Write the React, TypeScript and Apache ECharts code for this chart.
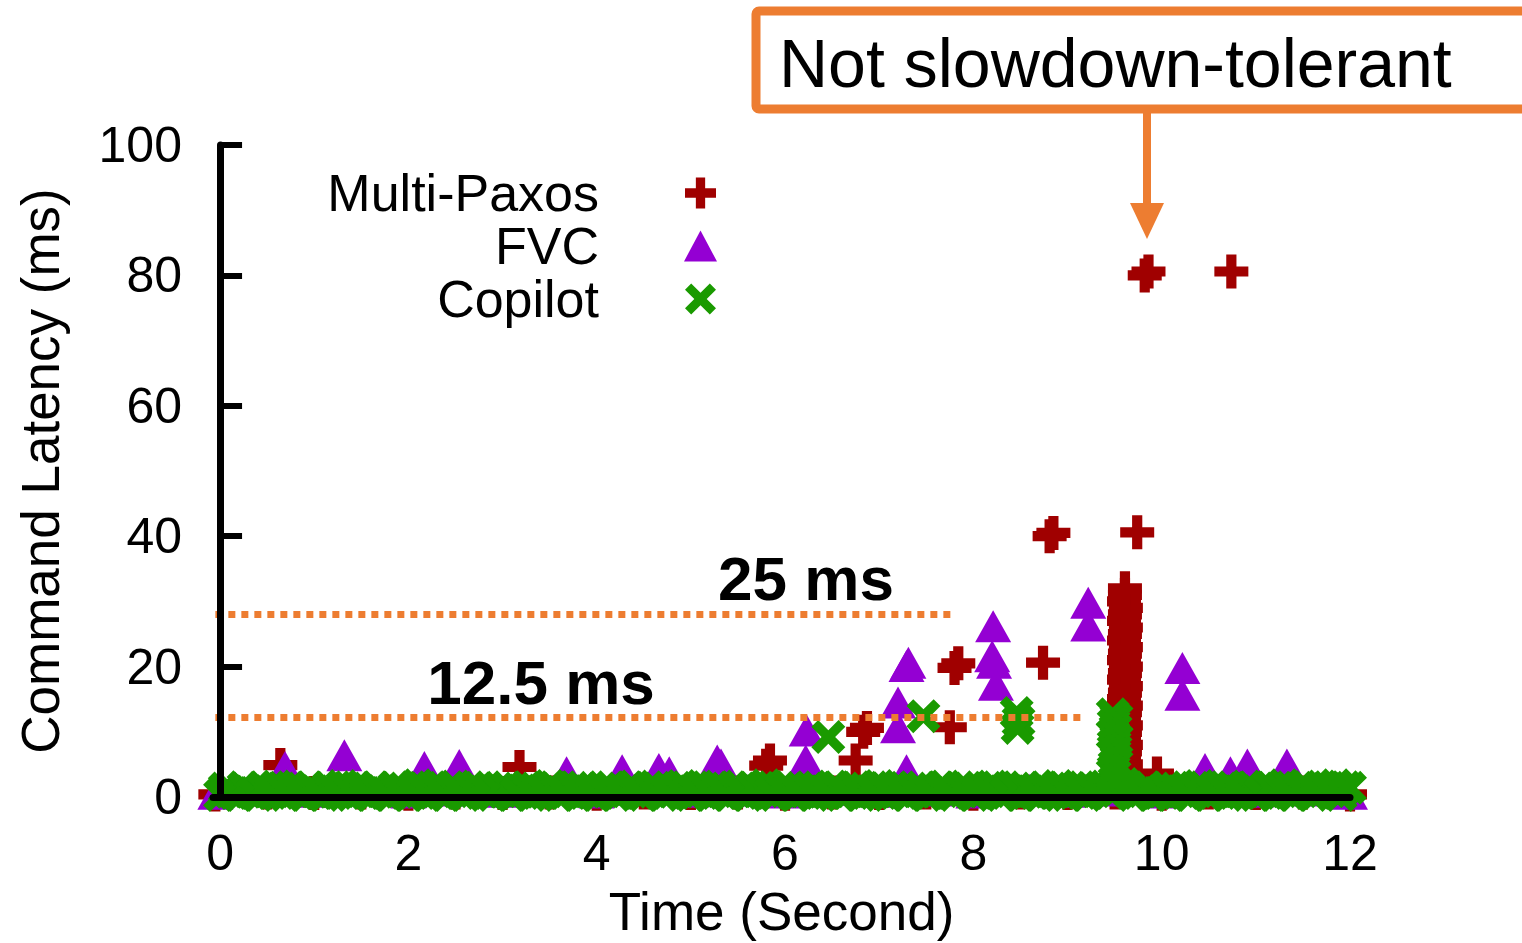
import React, { useEffect, useRef } from "react";
import * as echarts from "echarts";

const FONT = "'Liberation Sans', Arial, Helvetica, sans-serif";
const RED = "#A00000";
const PURPLE = "#9400D3";
const GREEN = "#1A9A00";
const ORANGE = "#ED7D31";

const PLUS = "path://M7,0H13V7H20V13H13V20H7V13H0V7H7Z";
const CROSS =
  "path://M0,4L4,0L10,6L16,0L20,4L14,10L20,16L16,20L10,14L4,20L0,16L6,10Z";

const seriesNames = ["Multi-Paxos", "FVC", "Copilot"];
const xTickValues = [0, 2, 4, 6, 8, 10, 12];

// Time (s), latency (ms)
const multiPaxosOutliers: [number, number][] = [
  [0.64, 4.9], [3.18, 4.6], [5.8, 4.8], [5.84, 5.6], [6.75, 5.6], [6.83, 10.0],
  [6.87, 10.6], [7.75, 10.7], [7.8, 19.8], [7.84, 20.5], [8.74, 20.6], [8.81, 40.0],
  [8.85, 40.5], [9.74, 40.6], [9.82, 80.0], [9.86, 80.6], [10.74, 80.6], [9.95, 3.6],
];

const multiPaxosColumn: [number, number][] = [
  [9.61, 1.0], [9.62, 2.0], [9.6, 3.0], [9.61, 4.0], [9.62, 5.0], [9.6, 6.0], [9.61, 7.0],
  [9.62, 8.0], [9.6, 9.0], [9.61, 10.0], [9.62, 11.0], [9.6, 12.0], [9.61, 13.0], [9.62, 14.0],
  [9.6, 15.0], [9.61, 16.0], [9.62, 17.0], [9.6, 18.0], [9.61, 19.0], [9.62, 20.0], [9.6, 21.0],
  [9.61, 22.0], [9.62, 23.0], [9.6, 24.0], [9.61, 25.0], [9.62, 26.0], [9.6, 27.0], [9.61, 28.0],
  [9.62, 29.0], [9.6, 30.0], [9.61, 31.0], [9.61, 32.0],
];

const multiPaxosBaseline: [number, number][] = [
  [-0.05, 0.4], [0.5, 0.7], [1.0, 0.6], [1.5, 0.7], [2.0, 0.5], [2.5, 0.7], [3.0, 0.6],
  [3.5, 0.7], [4.0, 0.5], [4.5, 0.7], [5.0, 0.6], [5.5, 0.7], [6.0, 0.5], [6.5, 0.7],
  [7.0, 0.6], [7.5, 0.7], [8.0, 0.5], [8.5, 0.7], [9.0, 0.6], [9.5, 0.7], [10.0, 0.5],
  [10.5, 0.7], [11.0, 0.6], [11.5, 0.7], [12.0, 0.4],
];

const fvcOutliers: [number, number][] = [
  [0.69, 4.6], [1.32, 6.4], [2.17, 4.6], [2.54, 4.9], [3.68, 3.8], [4.27, 4.1], [4.66, 4.3],
  [4.77, 3.8], [5.28, 5.6], [5.32, 5.0], [6.22, 5.6], [6.23, 10.2], [7.2, 10.7], [7.2, 14.5],
  [7.29, 20.1], [7.31, 20.6], [7.29, 4.1], [8.21, 26.2], [8.2, 21.6], [8.22, 20.6], [8.24, 17.2],
  [9.22, 29.8], [9.22, 26.3], [10.22, 19.8], [10.22, 15.7], [10.46, 4.3], [10.73, 3.8],
  [10.91, 5.0], [11.33, 5.0],
];

const fvcBaseline: [number, number][] = [
  [-0.05, 0.5], [0.5, 1.0], [1.0, 0.8], [1.6, 1.1], [2.0, 0.7], [2.4, 1.0], [3.0, 0.8],
  [3.4, 1.0], [4.0, 0.7], [4.4, 1.1], [5.0, 0.8], [5.6, 1.0], [6.0, 0.7], [6.6, 1.1],
  [7.0, 0.8], [7.6, 1.0], [8.0, 0.7], [8.6, 1.1], [9.0, 0.8], [9.4, 1.0], [10.0, 0.7],
  [10.6, 1.1], [11.0, 0.8], [11.6, 1.0], [12.0, 0.5],
];

const copilotOutliers: [number, number][] = [
  [6.46, 9.2], [7.47, 12.4], [8.46, 12.9], [8.48, 11.6], [8.47, 10.6],
  [9.48, 12.7], [9.52, 12.0], [9.49, 11.2], [9.51, 10.4], [9.48, 9.6], [9.52, 8.8],
  [9.5, 8.0], [9.49, 7.3], [9.5, 6.6], [9.52, 5.0], [9.48, 3.6], [9.5, 2.4],
];

const copilotBaseline: [number, number][] = [
  [0.0, 0.3], [0.1, 0.8], [0.2, 0.3], [0.3, 0.9], [0.4, 0.3], [0.5, 0.8], [0.6, 1.6], [0.7, 0.3], [0.8, 0.9], [0.9, 0.3],
  [1.0, 0.9], [1.1, 0.3], [1.2, 0.8], [1.3, 1.7], [1.4, 0.3], [1.5, 0.9], [1.6, 0.3], [1.7, 0.9], [1.8, 0.3], [1.9, 0.8],
  [2.0, 0.3], [2.1, 1.8], [2.2, 0.3], [2.3, 0.9], [2.4, 0.3], [2.5, 1.6], [2.6, 0.3], [2.7, 0.9], [2.8, 0.8], [2.9, 0.3],
  [3.0, 0.9], [3.1, 0.3], [3.2, 1.0], [3.3, 0.3], [3.4, 0.8], [3.5, 1.7], [3.6, 0.3], [3.7, 0.9], [3.8, 0.3], [3.9, 0.9],
  [4.0, 0.3], [4.1, 0.9], [4.2, 0.3], [4.3, 0.9], [4.4, 1.6], [4.5, 0.3], [4.6, 0.8], [4.7, 0.3], [4.8, 0.9], [4.9, 1.7],
  [5.0, 0.3], [5.1, 0.9], [5.2, 0.3], [5.3, 1.6], [5.4, 0.3], [5.5, 0.9], [5.6, 0.3], [5.7, 0.9], [5.8, 1.8], [5.9, 0.3],
  [6.0, 0.9], [6.1, 0.3], [6.2, 0.9], [6.3, 0.3], [6.4, 0.8], [6.5, 1.6], [6.6, 0.3], [6.7, 0.9], [6.8, 0.3], [6.9, 0.9],
  [7.0, 1.7], [7.1, 0.3], [7.2, 0.9], [7.3, 0.3], [7.4, 0.9], [7.5, 0.3], [7.6, 0.8], [7.7, 1.6], [7.8, 0.3], [7.9, 0.9],
  [8.0, 0.3], [8.1, 0.9], [8.2, 1.6], [8.3, 0.3], [8.4, 0.9], [8.5, 0.3], [8.6, 0.9], [8.7, 0.3], [8.8, 0.8], [8.9, 1.7],
  [9.0, 0.3], [9.1, 0.9], [9.2, 0.3], [9.3, 0.9], [9.4, 1.6], [9.5, 1.7], [9.6, 2.0], [9.7, 0.3], [9.8, 0.9], [9.9, 0.3],
  [10.0, 0.9], [10.1, 0.3], [10.2, 0.9], [10.3, 0.3], [10.4, 1.7], [10.5, 0.3], [10.6, 0.9], [10.7, 0.3], [10.8, 0.9], [10.9, 1.6],
  [11.0, 0.3], [11.1, 0.9], [11.2, 0.3], [11.3, 1.8], [11.4, 0.3], [11.5, 0.9], [11.6, 0.3], [11.7, 1.6], [11.8, 0.9], [11.9, 0.3],
  [12.0, 1.4],
];

const copilotBaselineUpper: [number, number][] = [
  [0.05, 1.3], [0.15, 0.6], [0.25, 1.5], [0.35, 0.6], [0.45, 1.4], [0.55, 0.6], [0.65, 1.3], [0.75, 1.5], [0.85, 0.6], [0.95, 1.4],
  [1.05, 0.6], [1.15, 1.5], [1.25, 0.6], [1.35, 1.3], [1.45, 1.5], [1.55, 0.6], [1.65, 1.4], [1.75, 0.6], [1.85, 1.5], [1.95, 1.3],
  [2.05, 0.6], [2.15, 1.4], [2.25, 1.5], [2.35, 0.6], [2.45, 1.3], [2.55, 0.6], [2.65, 1.5], [2.75, 1.4], [2.85, 0.6], [2.95, 1.3],
  [3.05, 1.5], [3.15, 0.6], [3.25, 1.4], [3.35, 1.3], [3.45, 0.6], [3.55, 1.5], [3.65, 0.6], [3.75, 1.4], [3.85, 1.5], [3.95, 0.6],
  [4.05, 1.3], [4.15, 1.5], [4.25, 0.6], [4.35, 1.4], [4.45, 0.6], [4.55, 1.5], [4.65, 1.3], [4.75, 0.6], [4.85, 1.4], [4.95, 1.5],
  [5.05, 0.6], [5.15, 1.3], [5.25, 1.5], [5.35, 0.6], [5.45, 1.4], [5.55, 0.6], [5.65, 1.5], [5.75, 1.3], [5.85, 0.6], [5.95, 1.4],
  [6.05, 1.5], [6.15, 0.6], [6.25, 1.3], [6.35, 1.5], [6.45, 0.6], [6.55, 1.4], [6.65, 0.6], [6.75, 1.5], [6.85, 1.3], [6.95, 0.6],
  [7.05, 1.4], [7.15, 1.5], [7.25, 0.6], [7.35, 1.3], [7.45, 1.5], [7.55, 0.6], [7.65, 1.4], [7.75, 0.6], [7.85, 1.5], [7.95, 1.3],
  [8.05, 0.6], [8.15, 1.4], [8.25, 1.5], [8.35, 0.6], [8.45, 1.3], [8.55, 1.5], [8.65, 0.6], [8.75, 1.4], [8.85, 0.6], [8.95, 1.5],
  [9.05, 1.3], [9.15, 0.6], [9.25, 1.4], [9.35, 1.5], [9.45, 0.6], [9.55, 1.3], [9.65, 1.5], [9.75, 0.6], [9.85, 1.4], [9.95, 0.6],
  [10.05, 1.5], [10.15, 1.3], [10.25, 0.6], [10.35, 1.4], [10.45, 1.5], [10.55, 0.6], [10.65, 1.3], [10.75, 1.5], [10.85, 0.6], [10.95, 1.4],
  [11.05, 0.6], [11.15, 1.5], [11.25, 1.3], [11.35, 0.6], [11.45, 1.4], [11.55, 1.5], [11.65, 0.6], [11.75, 1.3], [11.85, 1.8], [11.95, 1.5],
];

const refLines = [
  { label: "25 ms", y: 28.1, xStart: -0.05, xEnd: 7.8 },
  { label: "12.5 ms", y: 12.2, xStart: -0.05, xEnd: 9.18 },
];

export default function App() {
  const ref = useRef<HTMLDivElement>(null);

  useEffect(() => {
    if (!ref.current) return;
    const chart = echarts.init(ref.current, undefined, { renderer: "svg" });
    const axisText = { color: "#000", fontFamily: FONT };
    chart.setOption({
      animation: false,
      backgroundColor: "#fff",
      grid: { left: 213, top: 145, width: 1137, height: 655 },
      xAxis: {
        type: "value",
        min: -0.075,
        max: 12,
        z: 10,
        splitLine: { show: false },
        axisTick: { show: false },
        axisLine: { lineStyle: { color: "#000", width: 7, cap: "round" } },
        axisLabel: { ...axisText, fontSize: 50, margin: 31, customValues: xTickValues },
        name: "Time (Second)",
        nameLocation: "middle",
        nameGap: 88,
        nameTextStyle: { ...axisText, fontSize: 53 },
      },
      yAxis: {
        type: "value",
        min: 0,
        max: 100,
        interval: 20,
        z: 10,
        splitLine: { show: false },
        axisTick: { inside: true, length: 22, lineStyle: { color: "#000", width: 6 } },
        axisLine: { lineStyle: { color: "#000", width: 7, cap: "round" } },
        axisLabel: { ...axisText, fontSize: 50, margin: 31 },
        name: "Command Latency (ms)",
        nameLocation: "middle",
        nameRotate: 90,
        nameGap: 146,
        nameTextStyle: { ...axisText, fontSize: 53 },
      },
      legend: {
        orient: "vertical",
        align: "right",
        right: 800,
        top: 162,
        itemWidth: 33,
        itemHeight: 31,
        itemGap: 1,
        selectedMode: false,
        textStyle: { ...axisText, fontSize: 52, lineHeight: 50, padding: [0, 80, 0, 0] },
        data: [
          { name: seriesNames[0], icon: PLUS },
          { name: seriesNames[1], icon: "triangle" },
          { name: seriesNames[2], icon: CROSS },
        ],
      },
      series: [
        {
          name: seriesNames[0],
          type: "scatter",
          symbol: PLUS,
          symbolSize: 34,
          itemStyle: { color: RED, opacity: 1 },
          data: [...multiPaxosBaseline, ...multiPaxosColumn, ...multiPaxosOutliers],
        },
        {
          name: seriesNames[1],
          type: "scatter",
          symbol: "triangle",
          symbolSize: [36, 32],
          itemStyle: { color: PURPLE, opacity: 1 },
          data: [...fvcBaseline, ...fvcOutliers],
        },
        {
          name: seriesNames[2],
          type: "scatter",
          symbol: CROSS,
          symbolSize: 34,
          itemStyle: { color: GREEN, opacity: 1 },
          data: [...copilotBaseline, ...copilotBaselineUpper, ...copilotOutliers],
          markLine: {
            silent: true,
            symbol: "none",
            label: { show: false },
            lineStyle: { color: ORANGE, width: 7, type: [7, 6], opacity: 1 },
            data: refLines.map((l) => [{ coord: [l.xStart, l.y] }, { coord: [l.xEnd, l.y] }]),
          },
        },
      ],
      graphic: [
        {
          type: "rect",
          shape: { x: 756, y: 11, width: 820, height: 98, r: 3 },
          style: { fill: "#fff", stroke: ORANGE, lineWidth: 9 },
          z: 20,
        },
        {
          type: "text",
          x: 779,
          y: 63,
          style: {
            text: "Not slowdown-tolerant",
            font: `68px ${FONT}`,
            fill: "#000",
            align: "left",
            verticalAlign: "middle",
          },
          z: 21,
        },
        {
          type: "line",
          shape: { x1: 1147, y1: 112, x2: 1147, y2: 208 },
          style: { stroke: ORANGE, lineWidth: 8 },
          z: 20,
        },
        {
          type: "polygon",
          shape: { points: [[1130, 203], [1164, 203], [1147, 239]] },
          style: { fill: ORANGE },
          z: 20,
        },
        {
          type: "text",
          x: 806,
          y: 578,
          style: {
            text: refLines[0].label,
            font: `bold 62px ${FONT}`,
            fill: "#000",
            align: "center",
            verticalAlign: "middle",
          },
          z: 20,
        },
        {
          type: "text",
          x: 541,
          y: 682,
          style: {
            text: refLines[1].label,
            font: `bold 62px ${FONT}`,
            fill: "#000",
            align: "center",
            verticalAlign: "middle",
          },
          z: 20,
        },
      ],
    });
    return () => chart.dispose();
  }, []);

  return (
    <div
      ref={ref}
      style={{ position: "fixed", left: 0, top: 0, width: 1522, height: 943, background: "#fff" }}
    />
  );
}
